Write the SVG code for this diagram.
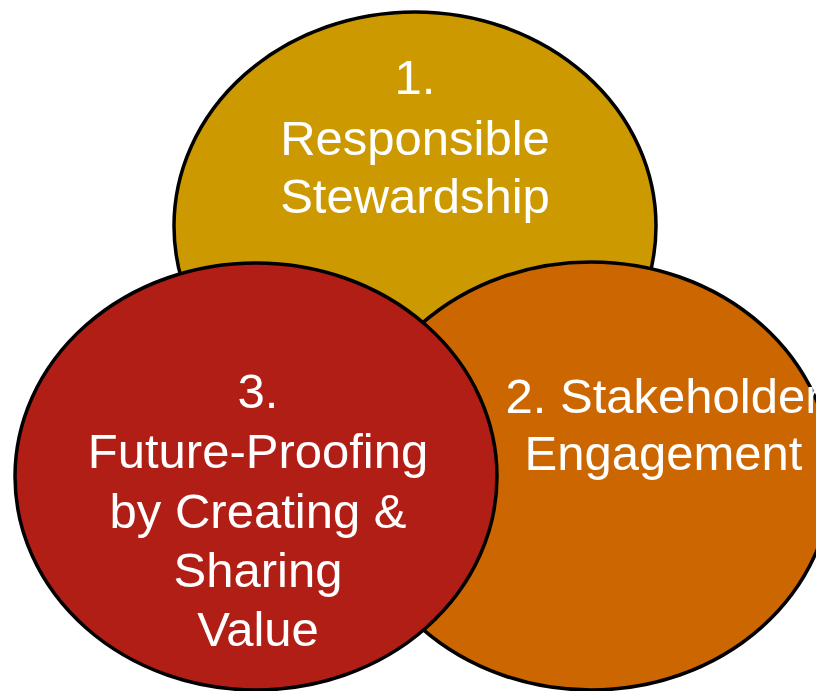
<svg xmlns="http://www.w3.org/2000/svg" width="816" height="691" viewBox="0 0 816 691">
<style>
.c{stroke:#000;stroke-width:3.5}
.t{font-family:"Liberation Sans",Arial,sans-serif;font-size:49px;fill:#fff;text-anchor:middle}
</style>
<rect width="816" height="691" fill="#fff"/>
<g id="node1">
<ellipse class="c" cx="415" cy="226" rx="241" ry="214" fill="#CC9900"/>
<text class="t" x="415" y="94">1.</text>
<text class="t" x="415" y="155">Responsible</text>
<text class="t" x="415" y="213">Stewardship</text>
</g>
<g id="node2">
<ellipse class="c" cx="591" cy="476" rx="241" ry="214" fill="#CC6600"/>
<text class="t" x="663.5" y="413">2. Stakeholder</text>
<text class="t" x="663.5" y="470">Engagement</text>
</g>
<g id="node3">
<ellipse class="c" cx="256" cy="476.5" rx="241" ry="213.5" fill="#B01E16"/>
<text class="t" x="258" y="408">3.</text>
<text class="t" x="258" y="468">Future-Proofing</text>
<text class="t" x="258" y="528">by Creating &amp;</text>
<text class="t" x="258" y="587">Sharing</text>
<text class="t" x="258" y="646">Value</text>
</g>
<g id="connectors"/>
</svg>
